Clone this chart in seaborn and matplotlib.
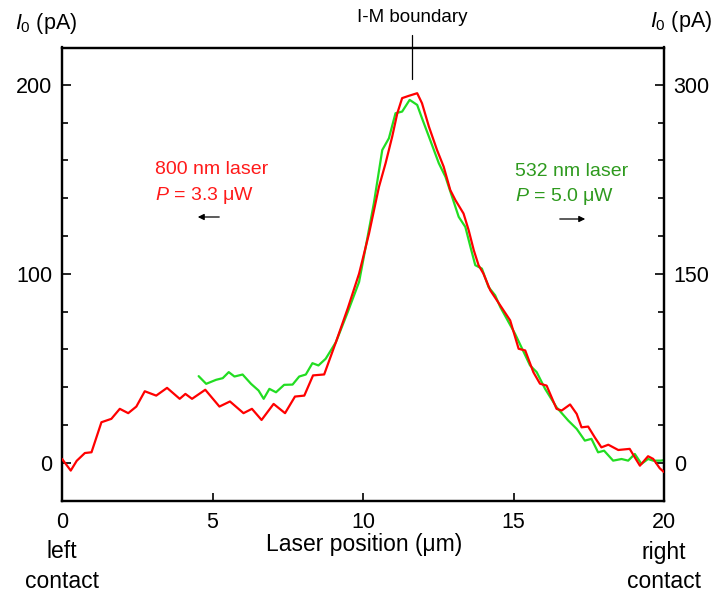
import numpy as np
import pandas as pd
import seaborn as sns
import matplotlib
matplotlib.use("Agg")
import matplotlib.pyplot as plt
from matplotlib import font_manager as fm
from matplotlib.ticker import FixedLocator

# ---------------- data ----------------
red_x = [0, 0.29, 0.49, 0.76, 0.98, 1.31, 1.64, 1.92, 2.2, 2.47, 2.75, 3.13, 3.49, 3.91, 4.1, 4.32,
         4.76, 5.23, 5.58, 6.03, 6.31, 6.63, 7.03, 7.41, 7.74, 8.05, 8.34, 8.71, 9.1, 9.5, 9.87,
         10.2, 10.53, 10.75, 10.97, 11.14, 11.3, 11.52, 11.8, 11.96, 12.19, 12.46, 12.68, 12.9,
         13.07, 13.34, 13.51, 13.68, 13.84, 14.0, 14.23, 14.45, 14.89, 15.17, 15.39, 15.66, 15.88,
         16.1, 16.43, 16.6, 16.88, 17.1, 17.26, 17.48, 17.7, 17.92, 18.15, 18.48, 18.86, 19.03,
         19.2, 19.47, 19.64, 19.86, 20.0]
red_y = [2, -4.2, 1, 5.1, 5.5, 21.4, 23.2, 28.5, 26.2, 29.7, 37.8, 35.5, 39.6, 33.8, 36.4, 33.8,
         38.6, 29.7, 32.4, 26.2, 28.5, 22.6, 31.1, 26.2, 35, 35.5, 46.2, 46.7, 63.8, 82, 100.1,
         121.3, 146, 158.5, 172.6, 185, 193, 194.2, 195.6, 190.3, 177.9, 165.5, 156.7, 144.3,
         139, 131.9, 123.1, 112.5, 104.5, 100.1, 91.2, 85.9, 75.3, 60.3, 59.4, 47.9, 41.8,
         40.8, 28.5, 27.6, 30.8, 25.8, 18.7, 19.1, 13.4, 8.1, 9.5, 6.7, 7.3, 2.8,
         -1.6, 3.4, 2, -3, -5]

green_x = [4.54, 4.79, 5.12, 5.34, 5.54, 5.73, 6.0, 6.28, 6.53, 6.7, 6.89, 7.11, 7.38, 7.66, 7.88,
           8.1, 8.32, 8.52, 8.76, 9.1, 9.5, 9.87, 10.09, 10.36, 10.64, 10.86, 11.08, 11.3, 11.55,
           11.8, 11.96, 12.19, 12.52, 12.74, 12.96, 13.18, 13.4, 13.57, 13.73, 13.95, 14.17,
           14.39, 14.56, 15.05, 15.55, 15.77, 16.05, 16.43, 16.82, 17.1, 17.37, 17.59, 17.81,
           18.01, 18.31, 18.59, 18.81, 19.03, 19.25, 19.47, 19.64, 19.89, 20.0]
green_y = [68.7, 62.6, 65.8, 67.1, 71.9, 68.4, 70, 62.6, 57.3, 50.7, 58.6, 55.9, 61.8, 62, 68.4,
           70, 79, 77.2, 82.5, 95.7, 120, 143.5, 171.3, 205.9, 248.3, 257.6, 277.5, 278.8, 288.1,
           284.1, 273.5, 258.9, 237.7, 227, 211.1, 195.2, 187.2, 171.3, 156.8, 154.1, 139.5,
           132.9, 123.6, 102.4, 77.2, 71.9, 58.6, 44, 33.4, 26.8, 17.5, 18.9, 8.2,
           9.5, 1.6, 2.9, 1.6, 6.9, -1, 2.9, 1.6, 1.6, 2]

x_ticks = [0, 5, 10, 15, 20]
left_ticks = [0, 100, 200]
right_ticks = [0, 150, 300]

# ---------------- style ----------------
sns.set_style("ticks")
names = {f.name for f in fm.fontManager.ttflist}
narrow = "Liberation Sans Narrow" if "Liberation Sans Narrow" in names else "Liberation Sans"
plt.rcParams["font.family"] = ["Liberation Sans", "DejaVu Sans"]
plt.rcParams["mathtext.fontset"] = "custom"
plt.rcParams["mathtext.rm"] = "Liberation Sans"
plt.rcParams["mathtext.it"] = "Liberation Sans:italic"
for k in ("text.color", "xtick.color", "ytick.color", "axes.labelcolor", "axes.edgecolor"):
    plt.rcParams[k] = "black"

RED = "#ff0000"
GREEN = "#22dd22"
RED_T = "#ff1a1a"
GREEN_T = "#2e9a1e"

W, H = 713, 594
fig = plt.figure(figsize=(W / 100, H / 100), dpi=100)
L, R, T, B = 62, 664, 47.5, 501
ax = fig.add_axes([L / W, 1 - B / H, (R - L) / W, (B - T) / H])
ax2 = ax.twinx()

red_df = pd.DataFrame({"x": red_x, "y": red_y})
green_df = pd.DataFrame({"x": green_x, "y": green_y})
sns.lineplot(data=red_df, x="x", y="y", ax=ax, color=RED, lw=1.6, legend=False, zorder=3)
sns.lineplot(data=green_df, x="x", y="y", ax=ax2, color=GREEN, lw=1.6, legend=False)
ax.set_zorder(ax2.get_zorder() + 1)
ax.patch.set_visible(False)

ylo, yhi = -20.3, 219.8
ax.set_xlim(0, 20)
ax.set_ylim(ylo, yhi)
ax2.set_ylim(ylo * 1.5, yhi * 1.5)

for a in (ax, ax2):
    for s in a.spines.values():
        s.set_linewidth(1.6)
        s.set_color("black")
    a.set_xlabel("")
    a.set_ylabel("")

ax.set_xticks(x_ticks)
ax.set_xticklabels([str(t) for t in x_ticks])
ax.set_yticks(left_ticks)
ax.set_yticklabels([str(t) for t in left_ticks])
ax.yaxis.set_minor_locator(FixedLocator([20, 40, 60, 80, 120, 140, 160, 180]))
ax2.set_yticks(right_ticks)
ax2.set_yticklabels([str(t) for t in right_ticks])
ax2.yaxis.set_minor_locator(FixedLocator([30, 60, 90, 120, 180, 210, 240, 270]))

ax.tick_params(axis="x", which="both", direction="in", length=6, width=1.2,
               labelsize=15.5, pad=8, top=False, colors="black")
ax.tick_params(axis="y", which="major", direction="in", length=6.5, width=1.2,
               labelsize=15.5, pad=7, right=False, colors="black")
ax.tick_params(axis="y", which="minor", direction="in", length=4, width=1.2, right=False,
               colors="black")
ax2.tick_params(axis="y", which="major", direction="in", length=6.5, width=1.2,
                labelsize=15.5, pad=7, colors="black")
ax2.tick_params(axis="y", which="minor", direction="in", length=4, width=1.2, colors="black")

# axis titles
fig.text(15 / W, 1 - 23 / H, r"$I_{\mathrm{0}}$ (pA)", fontsize=15.5, ha="left", va="center")
fig.text(650 / W, 1 - 21 / H, r"$I_{0}$ (pA)", fontsize=15.5, ha="left", va="center")

fs_n = 20 if narrow != "Liberation Sans" else 16.5
fig.text(364 / W, 1 - 544 / H, "Laser position (μm)", fontsize=fs_n, family=narrow,
         ha="center", va="center")
fig.text(62 / W, 1 - 552 / H, "left", fontsize=fs_n, family=narrow, ha="center", va="center")
fig.text(62 / W, 1 - 582 / H, "contact", fontsize=fs_n, family=narrow, ha="center", va="center")
fig.text(664 / W, 1 - 552 / H, "right", fontsize=fs_n, family=narrow, ha="center", va="center")
fig.text(664 / W, 1 - 582 / H, "contact", fontsize=fs_n, family=narrow, ha="center", va="center")

# I-M boundary marker
bx = 11.63
ax.plot([bx, bx], [(B - 79) / (B - T), (B - 35) / (B - T)], color="black", lw=0.9,
        transform=ax.get_xaxis_transform(), clip_on=False)
fig.text(412 / W, 1 - 18 / H, "I-M boundary", fontsize=13.5, ha="center", va="center")

# laser annotations
fig.text(155 / W, 1 - 170 / H, "800 nm laser", color=RED_T, fontsize=14, ha="left", va="center")
fig.text(155 / W, 1 - 195 / H, r"$P$ = 3.3 μW", color=RED_T, fontsize=14, ha="left", va="center")
fig.text(515 / W, 1 - 172 / H, "532 nm laser", color=GREEN_T, fontsize=14, ha="left", va="center")
fig.text(515 / W, 1 - 196 / H, r"$P$ = 5.0 μW", color=GREEN_T, fontsize=14, ha="left", va="center")

arrow = dict(arrowstyle="-|>", color="black", lw=0.9, mutation_scale=9)
fig.add_artist(matplotlib.patches.FancyArrowPatch((222 / W, 1 - 217 / H), (195 / W, 1 - 217 / H),
                                                  transform=fig.transFigure, **arrow))
fig.add_artist(matplotlib.patches.FancyArrowPatch((557 / W, 1 - 219 / H), (588 / W, 1 - 219 / H),
                                                  transform=fig.transFigure, **arrow))

fig.savefig("out.png", dpi=100)
